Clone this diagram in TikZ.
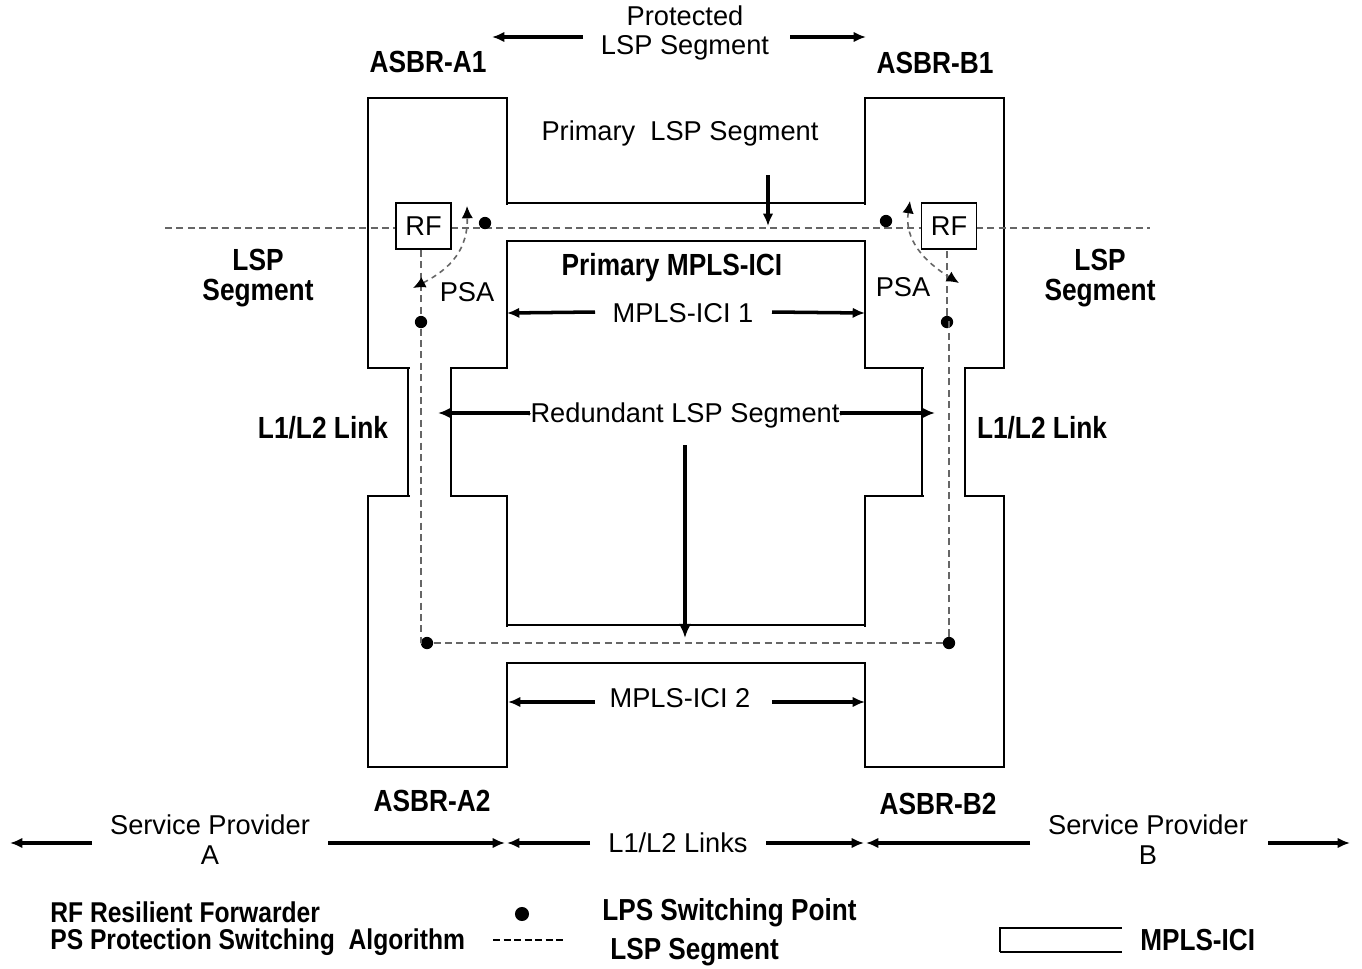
\documentclass[tikz,border=0pt]{standalone}
\usepackage{fontspec}
\setmainfont{Liberation Sans}
\newfontfamily\bnar{Liberation Sans}[FakeStretch=0.86]
\usetikzlibrary{arrows.meta}
\begin{document}
\begin{tikzpicture}[x=0.02cm,y=-0.02cm,
  box/.style={draw,line width=1pt,inner sep=0pt,outer sep=0pt,anchor=north west},
  lbl/.style={font=\fontsize{15.5}{17}\selectfont,align=center,inner sep=1pt},
  blbl/.style={font=\bnar\bfseries\fontsize{17.4}{17}\selectfont,align=center,inner sep=1pt},
  legl/.style={font=\bnar\bfseries\fontsize{16.3}{17}\selectfont,anchor=west,inner sep=0pt},
  arr/.style={line width=2pt,-{Latex[length=7pt,width=6pt]}},
  vline/.style={line width=1pt},
  seg/.style={dashed,dash pattern=on 4pt off 2.5pt,gray!80!black,line width=0.9pt},
  curv/.style={dashed,dash pattern=on 3pt off 2.5pt,gray!80!black,line width=0.9pt,{Latex[length=7pt,width=6.5pt,black]}-{Latex[length=7pt,width=6.5pt,black]}},
  dotm/.style={circle,fill,inner sep=0pt,minimum size=7pt}]
\useasboundingbox (0,0) rectangle (1362,968);
% boxes
\node[box,minimum width=2.78cm,minimum height=5.4cm] (A1) at (368,98) {};
\node[box,minimum width=2.78cm,minimum height=5.4cm] (B1) at (865,98) {};
\node[box,minimum width=2.78cm,minimum height=5.42cm] (A2) at (368,496) {};
\node[box,minimum width=2.78cm,minimum height=5.42cm] (B2) at (865,496) {};
% openings
\fill[white] (505,204.5) rectangle (867,239.5);
\fill[white] (505,626.5) rectangle (867,661.5);
\fill[white] (409.5,366) rectangle (449.5,498);
\fill[white] (923.5,366) rectangle (963.5,498);
% MPLS-ICI bands and links
\draw[vline] (A1.east |- 0,203) -- (B1.west |- 0,203);
\draw[vline] (A1.east |- 0,241) -- (B1.west |- 0,241);
\draw[vline] (A2.east |- 0,625) -- (B2.west |- 0,625);
\draw[vline] (A2.east |- 0,663) -- (B2.west |- 0,663);
\draw[vline] (408,368) -- (408,496);
\draw[line width=1.4pt] (451,368) -- (451,496);
\draw[vline] (922,368) -- (922,496);
\draw[line width=1.4pt] (965,368) -- (965,496);
% dashed LSP segment line
\draw[seg] (165,228) -- (1150,228);
% RF boxes
\node[draw,fill=white,line width=0.8pt,minimum width=1.1cm,minimum height=0.92cm,inner sep=0pt,font=\fontsize{15.5}{17}\selectfont] (RFA) at (423.5,226) {RF};
\node[draw,fill=white,line width=0.8pt,minimum width=1.1cm,minimum height=0.92cm,inner sep=0pt,font=\fontsize{15.5}{17}\selectfont] (RFB) at (949,226) {RF};
% switching points
\node[dotm] (pA1) at (485,223) {};
\node[dotm] (pB1) at (886,221) {};
\node[dotm] (pA1b) at (421,322) {};
\node[dotm] (pB1b) at (947,322) {};
\node[dotm] (pA2) at (427,643) {};
\node[dotm] (pB2) at (949,643) {};
% redundant path
\draw[seg] (RFA.south -| pA1b) -- (pA1b) -- (pA1b |- pA2) -- (pA2) -- (pB2) -- (pB2 |- pB1b) -- (pB1b) -- (RFB.south -| pB1b);
% PSA curves
\coordinate (cA1) at (467,206);
\coordinate (cA2) at (413,288);
\coordinate (cB1) at (910,201);
\coordinate (cB2) at (959,283);
\draw[curv] (cA2) .. controls (452,268) and (468,248) .. (cA1);
\draw[curv] (cB1) .. controls (904,240) and (925,262) .. (cB2);
\node[lbl] (psaA) at (467,292) {PSA};
\node[lbl] (psaB) at (903,287) {PSA};
% labels
\node[lbl] (prot) at (685,33) {Protected\\[-1pt]LSP Segment};
\node[blbl] (asbrA1) at (428,62) {ASBR-A1};
\node[blbl] (asbrB1) at (935,63) {ASBR-B1};
\node[blbl] (asbrA2) at (432,801) {ASBR-A2};
\node[blbl] (asbrB2) at (938,804) {ASBR-B2};
\node[lbl] (pseg) at (680,133) {Primary\ \ LSP Segment};
\node[blbl] (pmici) at (672,268) {Primary MPLS-ICI};
\node[lbl] (mici1) at (683,313) {MPLS-ICI 1};
\node[lbl] (mici2) at (680,698) {MPLS-ICI 2};
\node[lbl] (rseg) at (685,415) {Redundant LSP Segment};
\node[blbl] (segL) at (258,278) {LSP\\Segment};
\node[blbl] (segR) at (1100,278) {LSP\\Segment};
\node[blbl] (linkL) at (323,428) {L1/L2 Link};
\node[blbl] (linkR) at (1042,428) {L1/L2 Link};
\node[lbl] (spA) at (210,840) {Service Provider\\A};
\node[lbl] (spB) at (1148,840) {Service Provider\\B};
\node[lbl] (links) at (678,843) {L1/L2 Links};
% arrows
\draw[arr] (583,37) -- (492,37);
\draw[arr] (790,37) -- (866,37);
\draw[arr] (768,175) -- (768,226);
\draw[arr] (595,312) -- (mici1.west -| A1.east);
\draw[arr] (772,312) -- (mici1.east -| B1.west);
\draw[line width=1pt] (rseg.west) -- (530,413);
\draw[line width=1pt] (rseg.east) -- (840,413);
\draw[arr] (530,413) -- (438,413);
\draw[arr] (840,413) -- (935,413);
\draw[line width=2.4pt,-{Latex[length=8pt,width=7pt]}] (685,445) -- (685,638);
\draw[arr] (595,702) -- (508,702);
\draw[arr] (772,702) -- (865,702);
\draw[arr] (92,843) -- (10,843);
\draw[arr] (328,843) -- (505,843);
\draw[arr] (590,843) -- (507,843);
\draw[arr] (766,843) -- (864,843);
\draw[arr] (1030,843) -- (866,843);
\draw[arr] (1268,843) -- (1350,843);
% legend
\node[legl] (lg1) at (50,912) {RF Resilient Forwarder};
\node[legl] (lg2) at (50,942) {PS Protection Switching\ \ Algorithm};
\node[dotm,minimum size=8pt] (lgdot) at (522,914) {};
\node[legl,font=\bnar\bfseries\fontsize{17.3}{17}\selectfont] (lg3) at (602,913) {LPS Switching Point};
\coordinate (lgs1) at (493,940);
\coordinate (lgs2) at (563,940);
\draw[dashed,dash pattern=on 4pt off 2pt,line width=1.2pt] (lgs1) -- (lgs2);
\node[legl,font=\bnar\bfseries\fontsize{17.3}{17}\selectfont] (lg4) at (610,952) {LSP Segment};
\coordinate (lgm1) at (1000,928);
\coordinate (lgm2) at (1122,952);
\draw[vline] (lgm1 |- lgm2) -- (lgm1) -- (lgm2 |- lgm1);
\draw[line width=1.6pt] (lgm1 |- lgm2) -- (lgm2);
\node[legl,font=\bnar\bfseries\fontsize{17.3}{17}\selectfont] (lg5) at (1140,940) {MPLS-ICI};
\end{tikzpicture}
\end{document}
